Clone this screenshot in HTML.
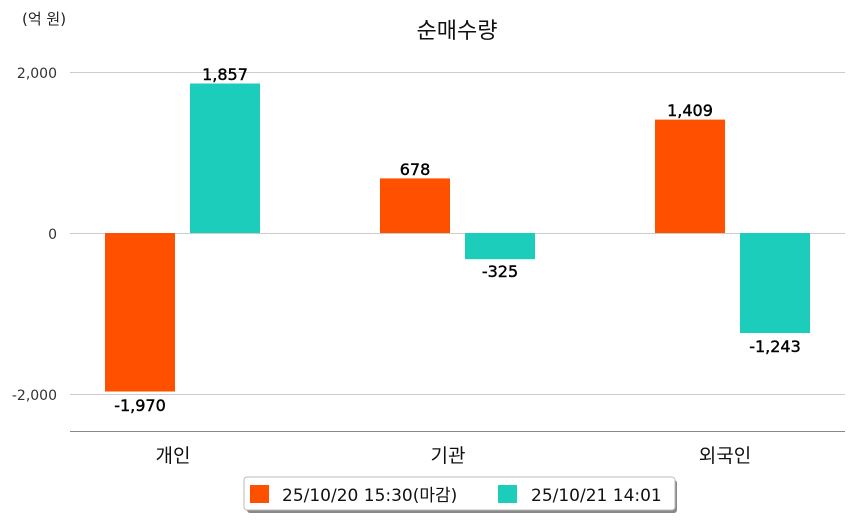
<!DOCTYPE html>
<html><head><meta charset="utf-8"><style>
body{margin:0;background:#fff}
svg text{font-family:"DejaVu Sans","Noto Sans CJK KR",sans-serif}
</style></head><body>
<svg width="854" height="520" xmlns="http://www.w3.org/2000/svg">
<rect width="854" height="520" fill="#fff"/>
<text x="22" y="24" font-size="15" fill="#222">(억 원)</text>
<text x="457" y="38" font-size="22" fill="#111" text-anchor="middle">순매수량</text>
<g stroke="#ccc" stroke-width="1">
<line x1="70" y1="72.5" x2="845" y2="72.5"/>
<line x1="70" y1="233.5" x2="845" y2="233.5"/>
<line x1="70" y1="394.5" x2="845" y2="394.5"/>
</g>
<line x1="70" y1="431.5" x2="845" y2="431.5" stroke="#888" stroke-width="1"/>
<g font-size="14" fill="#333" text-anchor="end">
<text x="57" y="78">2,000</text>
<text x="57" y="239">0</text>
<text x="57" y="400">-2,000</text>
</g>
<g fill="#ff5000">
<rect x="105" y="233" width="70" height="158.5"/>
<rect x="380" y="178.4" width="70" height="54.6"/>
<rect x="655" y="119.6" width="70" height="113.4"/>
</g>
<g fill="#1ccdbb">
<rect x="190" y="83.5" width="70" height="149.5"/>
<rect x="465" y="233" width="70" height="26.2"/>
<rect x="740" y="233" width="70" height="100"/>
</g>
<g font-size="16" fill="#000" text-anchor="middle" stroke="#000" stroke-width="0.4">
<text x="140" y="411">-1,970</text>
<text x="225" y="80">1,857</text>
<text x="415" y="175">678</text>
<text x="500" y="277">-325</text>
<text x="690" y="116">1,409</text>
<text x="775" y="352">-1,243</text>
</g>
<g font-size="19" fill="#111" text-anchor="middle">
<text x="173" y="462">개인</text>
<text x="448" y="462">기관</text>
<text x="725" y="462">외국인</text>
</g>
<rect x="247" y="480" width="430" height="33" rx="3" fill="#888"/>
<rect x="244" y="477" width="431" height="33" rx="3" fill="#fff" stroke="#bbb"/>
<rect x="250" y="485" width="19" height="18" fill="#ff5000"/>
<text x="282" y="501" font-size="17" fill="#111">25/10/20 15:30(마감)</text>
<rect x="498" y="485" width="19" height="18" fill="#1ccdbb"/>
<text x="531" y="501" font-size="17" fill="#111">25/10/21 14:01</text>
</svg>
</body></html>
